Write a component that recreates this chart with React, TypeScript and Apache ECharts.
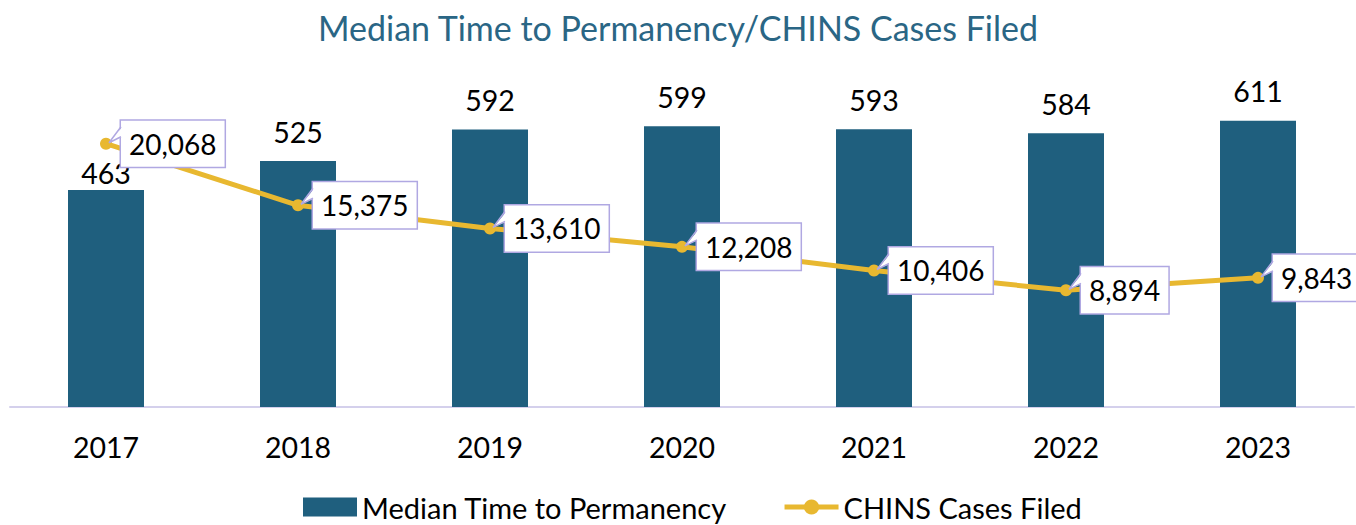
import React, { useEffect, useRef } from "react";
import * as echarts from "echarts";

const years = ["2017", "2018", "2019", "2020", "2021", "2022", "2023"];
const medianTime = [463, 525, 592, 599, 593, 584, 611];
const chinsCases = [20068, 15375, 13610, 12208, 10406, 8894, 9843];

const FONT = "Lato, 'Open Sans', sans-serif";
const BAR = "#1F5F7E";
const LINE = "#E8B830";
const BORDER = "#B0A8E2";

export default function App() {
  const ref = useRef<HTMLDivElement>(null);
  useEffect(() => {
    document.body.style.margin = "0";
    const chart = echarts.init(ref.current!, null, { renderer: "svg" });
    const fmt = (v: number) => v.toLocaleString("en-US");
    chart.setOption({
      animation: false,
      textStyle: { fontFamily: FONT },
      title: {
        text: "Median Time to Permanency/CHINS Cases Filed",
        left: "center",
        top: 5,
        textStyle: { color: "#2A6685", fontSize: 34, fontWeight: "normal", fontFamily: FONT },
      },
      legend: {
        top: 487,
        left: 298,
        itemGap: 55,
        itemWidth: 54,
        itemHeight: 19,
        lineStyle: { width: 5 },
        textStyle: { fontSize: 29, color: "#000", fontFamily: FONT, lineHeight: 30 },
        data: [
          { name: "Median Time to Permanency", icon: "rect" },
          { name: "CHINS Cases Filed" },
        ],
      },
      grid: { left: 10, right: 2, top: 79, bottom: 118 },
      xAxis: {
        type: "category",
        data: years,
        axisLine: { lineStyle: { color: "#D4D0EC", width: 2 } },
        axisTick: { show: false },
        axisLabel: { fontSize: 28.5, color: "#000", margin: 25, fontFamily: FONT },
      },
      yAxis: [
        { type: "value", min: 0, max: 700, show: false, splitLine: { show: false } },
        { type: "value", min: 0, max: 25000, show: false, splitLine: { show: false } },
      ],
      series: [
        {
          name: "Median Time to Permanency",
          type: "bar",
          data: medianTime.map((v, i) =>
            i === 0 ? { value: v, label: { distance: 3 } } : v
          ),
          barWidth: 76,
          itemStyle: { color: BAR },
          label: {
            show: true,
            position: "top",
            distance: 15,
            fontSize: 28.5,
            color: "#000",
            fontFamily: FONT,
          },
          z: 1,
        },
        {
          name: "CHINS Cases Filed",
          type: "line",
          yAxisIndex: 1,
          data: chinsCases,
          symbol: "circle",
          symbolSize: 12,
          lineStyle: { color: LINE, width: 5 },
          itemStyle: { color: LINE },
          z: 2,
        },
        {
          name: "callouts",
          type: "custom",
          yAxisIndex: 1,
          data: chinsCases.map((v, i) => [i, v]),
          z: 5,
          silent: true,
          renderItem: (params: any, api: any) => {
            const i = api.value(0);
            const v = api.value(1);
            const pt = api.coord([i, v]);
            const px = pt[0];
            const py = pt[1];
            const x0 = px + 15;
            return {
              type: "group",
              children: [
                {
                  type: "text",
                  x: x0,
                  y: py,
                  z2: 1,
                  style: {
                    text: fmt(chinsCases[i]),
                    font: `28px ${FONT}`,
                    fill: "#000",
                    align: "left",
                    verticalAlign: "middle",
                    lineHeight: 34,
                    backgroundColor: "#fff",
                    borderColor: BORDER,
                    borderWidth: 1.5,
                    padding: [6, 8, 6, 8],
                  },
                },
                {
                  type: "polygon",
                  z2: 2,
                  shape: { points: [[x0 + 1.5, py - 17], [px + 3, py - 1], [x0 + 1.5, py - 7]] },
                  style: { fill: "#fff", stroke: null },
                },
                {
                  type: "polyline",
                  z2: 3,
                  shape: { points: [[x0, py - 17], [px + 3, py - 1], [x0, py - 7]] },
                  style: { fill: null, stroke: BORDER, lineWidth: 1.5 },
                },
              ],
            };
          },
        },
      ],
    });
    return () => chart.dispose();
  }, []);
  return <div ref={ref} style={{ width: 1356, height: 525 }} />;
}
